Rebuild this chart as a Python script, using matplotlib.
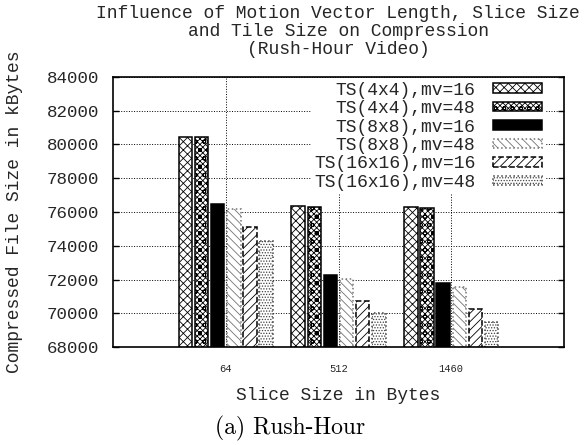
import numpy as np
import matplotlib
matplotlib.use('Agg')
import matplotlib.pyplot as plt

# data
slice_sizes = ['64', '512', '1460']
series_names = ['TS(4x4),mv=16', 'TS(4x4),mv=48', 'TS(8x8),mv=16',
                'TS(8x8),mv=48', 'TS(16x16),mv=16', 'TS(16x16),mv=48']
ts4_mv16 = [80470, 76360, 76280]
ts4_mv48 = [80430, 76320, 76240]
ts8_mv16 = [76470, 72270, 71810]
ts8_mv48 = [76180, 72010, 71540]
ts16_mv16 = [75090, 70750, 70250]
ts16_mv48 = [74280, 70000, 69500]
values = [ts4_mv16, ts4_mv48, ts8_mv16, ts8_mv48, ts16_mv16, ts16_mv48]

# gnuplot-like fill styles: (face, edge, hatch, linestyle)
styles = [
    ('white', 'black', 'xxxx', '-'),
    ('white', 'black', 'xxxxxxoo', '-'),
    ('black', 'black', None, '-'),
    ('white', '0.45', '\\\\\\\\', ':'),
    ('white', 'black', '////', '--'),
    ('white', '0.25', '......', ':'),
]

mono = 'Liberation Mono'
txt_color = '0.15'
plt.rcParams['hatch.linewidth'] = 0.6

W, H = 587, 445
fig = plt.figure(figsize=(W / 100, H / 100), dpi=100)
ax = fig.add_axes([113 / W, 1 - 347 / H, (564 - 113) / W, (347 - 77) / H])

x = np.arange(1, len(slice_sizes) + 1)
pitch = 0.143
width = 0.12
handles = []
for j, (vals, st) in enumerate(zip(values, styles)):
    fc, ec, hatch, ls = st
    b = ax.bar(x + (j - 2.5) * pitch, vals, width, bottom=0, color=fc,
               edgecolor=ec, hatch=hatch, linestyle=ls, linewidth=1.1,
               label=series_names[j], zorder=2)
    handles.append(b)

ax.set_xlim(0, 4)
ax.set_ylim(68000, 84000)
ax.set_yticks(np.arange(68000, 84001, 2000))
ax.set_xticks(x)
ax.set_xticklabels(slice_sizes, fontfamily=mono, fontsize=7.5, color=txt_color)
for lab in ax.get_yticklabels():
    lab.set_fontfamily(mono)
    lab.set_fontsize(12.6)
    lab.set_color(txt_color)
ax.tick_params(axis='y', direction='in', length=4, width=1, right=True, pad=10)
ax.tick_params(axis='x', length=0, pad=12)
ax.set_axisbelow(True)
ax.grid(True, linestyle=':', color='black', linewidth=0.7)
for sp in ax.spines.values():
    sp.set_linewidth(1.2)

leg = ax.legend(handles=handles, loc='upper right',
                bbox_to_anchor=(546 / W, 1 - 78 / H), bbox_transform=fig.transFigure,
                borderaxespad=0, borderpad=0.2, markerfirst=False,
                handlelength=2.75, handleheight=0.45, handletextpad=0.95,
                labelspacing=0.08, prop={'family': mono, 'size': 13},
                frameon=True, fancybox=False, framealpha=1,
                facecolor='white', edgecolor='none')
leg.set_zorder(2.2)
for t in leg.get_texts():
    t.set_color(txt_color)

title_lines = ['Influence of Motion Vector Length, Slice Size',
               'and Tile Size on Compression',
               '(Rush-Hour Video)']
for k, line in enumerate(title_lines):
    fig.text(338 / W, 1 - (13 + 18.5 * k) / H, line, ha='center', va='center',
             family=mono, fontsize=13, color=txt_color)

fig.text(338 / W, 1 - 396 / H, 'Slice Size in Bytes', ha='center', va='center',
         family=mono, fontsize=13, color=txt_color)
fig.text(15 / W, 1 - 212 / H, 'Compressed File Size in kBytes', ha='center',
         va='center', rotation=90, family=mono, fontsize=13, color=txt_color)
fig.text(290 / W, 1 - 428 / H, '(a) Rush-Hour', ha='center', va='center',
         family='cmr10', fontsize=17)

fig.savefig('out.png', dpi=100)
